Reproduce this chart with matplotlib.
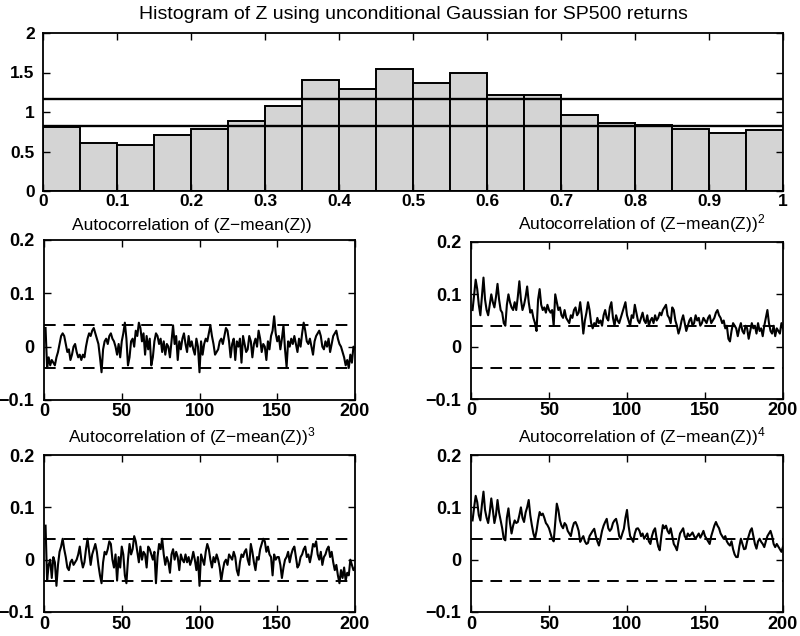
import numpy as np
import matplotlib
matplotlib.use("Agg")
import matplotlib.pyplot as plt

plt.rcParams['font.family'] = ['Liberation Sans', 'DejaVu Sans']
plt.rcParams['mathtext.fontset'] = 'custom'
plt.rcParams['mathtext.rm'] = 'Liberation Sans'
plt.rcParams['mathtext.it'] = 'Liberation Sans'

# ---------------- data ----------------
bin_left = np.arange(0, 1.0, 0.05)
hist_heights = [0.81, 0.61, 0.58, 0.71, 0.78, 0.89, 1.08, 1.41, 1.29, 1.54,
                1.37, 1.50, 1.22, 1.22, 0.96, 0.86, 0.83, 0.79, 0.74, 0.77]
hist_bounds = [1.17, 0.82]

lags = np.arange(1, 201)
conf_band = 0.04

# autocorrelation values in thousandths
acf1 = [35, -40, -20, -35, -25, -30, -35, -20, -10, 5,
        20, 25, 20, 5, -10, -5, -25, -15, 0, 5,
        -10, -20, -15, -25, -15, -20, 0, 15, 25, 20,
        30, 35, 25, 15, 5, -20, -48, -5, 10, 15,
        5, 20, 25, 15, 10, 0, -15, 5, -20, 10,
        25, 45, 15, -35, -20, 10, 15, 0, 30, 20,
        45, 35, 10, 25, -15, 20, -5, 15, -35, -20,
        10, 25, 20, 5, 15, -10, 10, -15, 5, 0,
        -20, 10, 40, 5, 20, -25, 10, -5, 15, 25,
        5, -10, 20, 0, 10, -5, -15, 15, 0, -48,
        10, -15, 5, 15, 10, 25, 40, 20, 5, -15,
        -10, -5, 10, 15, 5, 20, 35, 30, 10, -20,
        5, 15, -25, 10, 0, 15, -30, 20, 5, -10,
        -5, 20, 10, -20, 5, 15, 0, 30, 15, -10,
        5, 0, -25, 10, -5, 20, 30, 57, 25, 10,
        20, -5, 15, 40, -5, -38, 10, 0, 15, 5,
        20, 5, -10, 15, 0, 25, 45, 30, 10, 5,
        15, 0, -15, 10, 20, 25, 30, 20, 0, -5,
        10, 0, 15, -10, 5, 20, 25, 30, 15, 5,
        0, -10, -20, -35, -25, -40, -15, -30, 0, -5]

acf2 = [70, 100, 128, 110, 80, 60, 95, 132, 90, 70,
        60, 80, 100, 85, 75, 95, 120, 90, 70, 65,
        45, 40, 80, 100, 85, 75, 70, 85, 70, 95,
        125, 90, 70, 80, 95, 115, 85, 65, 70, 55,
        45, 30, 90, 110, 80, 70, 75, 65, 80, 70,
        65, 70, 40, 100, 85, 70, 75, 60, 55, 70,
        55, 50, 45, 60, 55, 70, 75, 60, 65, 85,
        60, 25, 50, 65, 85, 70, 45, 35, 45, 40,
        55, 45, 50, 40, 60, 70, 55, 50, 75, 85,
        55, 40, 60, 50, 45, 55, 65, 75, 85, 60,
        50, 40, 60, 55, 80, 65, 50, 45, 55, 65,
        50, 45, 60, 40, 50, 55, 45, 60, 50, 55,
        65, 60, 70, 75, 80, 60, 55, 45, 75, 70,
        50, 40, 25, 35, 50, 60, 45, 30, 40, 50,
        55, 40, 45, 60, 50, 55, 40, 45, 55, 50,
        45, 55, 60, 45, 50, 55, 65, 70, 60, 55,
        45, 50, 35, 40, 15, 10, 30, 45, 40, 35,
        20, 35, 45, 30, 25, 40, 35, 15, 30, 45,
        35, 40, 25, 45, 30, 35, 20, 40, 55, 70,
        45, 30, 25, 40, 20, 35, 30, 25, 45, 35]

acf3 = [65, -40, -10, 0, -35, 5, -5, -50, -10, 15,
        25, 40, 20, 5, -15, -20, -5, 0, -10, -5,
        0, 10, 25, 0, -15, -5, 20, 40, 15, -10,
        10, 20, 30, 15, -10, -30, -45, -5, 15, 10,
        20, 35, 30, 0, -15, 10, -40, 5, -15, 25,
        10, -30, -45, 0, 30, 10, 20, 45, 35, 15,
        -5, 25, 0, 15, 10, -15, 25, 20, 10, 0,
        15, -45, 5, 30, 20, 40, 10, -10, 5, -5,
        -25, 10, 20, 0, 15, 5, -20, 10, 0, -5,
        10, -5, 5, -10, 0, 15, 0, -20, 5, -50,
        10, 0, -10, 15, 30, 20, 0, -15, 5, -5,
        10, 0, -15, -40, -20, -5, 0, -10, 10, 5,
        0, 15, 5, -20, -30, -5, 10, 5, 15, 20,
        0, -10, 30, 15, -5, -20, 5, 0, 20, 30,
        40, 35, 15, 25, 10, 5, -30, 10, 0, 5,
        5, -10, -35, -15, 0, 5, 15, -5, 10, 20,
        25, 5, -15, -10, 5, 10, 20, 25, 5, 10,
        -5, 10, 30, 25, 35, 10, 0, 15, -10, 5,
        10, 20, 25, 5, 15, -5, -20, -10, -30, -45,
        -20, -35, -15, -40, -25, -30, 0, -10, -20, -15]

acf4 = [75, 100, 122, 110, 85, 75, 105, 130, 95, 80,
        70, 90, 117, 95, 70, 85, 114, 90, 75, 60,
        40, 37, 80, 98, 70, 50, 65, 75, 70, 72,
        85, 100, 80, 72, 90, 100, 114, 85, 66, 50,
        40, 55, 75, 91, 85, 88, 80, 70, 66, 60,
        50, 40, 35, 70, 107, 95, 75, 65, 60, 70,
        66, 55, 50, 45, 60, 70, 72, 65, 55, 34,
        40, 45, 35, 30, 32, 45, 50, 55, 59, 45,
        35, 27, 40, 55, 65, 72, 78, 60, 55, 59,
        70, 75, 78, 65, 45, 40, 50, 59, 80, 95,
        65, 45, 40, 34, 50, 59, 60, 55, 45, 50,
        40, 45, 50, 35, 30, 45, 55, 60, 40, 25,
        18, 45, 66, 60, 65, 55, 50, 60, 45, 30,
        25, 18, 35, 50, 55, 60, 45, 40, 50, 45,
        48, 52, 45, 40, 45, 50, 42, 48, 55, 45,
        40, 35, 30, 45, 55, 65, 72, 65, 60, 50,
        45, 40, 45, 35, 30, 27, 35, 20, 10, 5,
        5, 25, 40, 30, 20, 21, 35, 45, 55, 60,
        45, 30, 21, 35, 40, 34, 30, 24, 35, 45,
        50, 55, 45, 30, 24, 30, 25, 20, 15, 25]

titles = ['Autocorrelation of (Z\u2212mean(Z))',
          'Autocorrelation of (Z\u2212mean(Z))$^{2}$',
          'Autocorrelation of (Z\u2212mean(Z))$^{3}$',
          'Autocorrelation of (Z\u2212mean(Z))$^{4}$']
main_title = 'Histogram of Z using unconditional Gaussian for SP500 returns'

# ---------------- figure ----------------
W, H = 800, 636
fig = plt.figure(figsize=(W / 100, H / 100), dpi=100)


def px_axes(x0, y0, x1, y1):
    return fig.add_axes([x0 / W, 1 - y1 / H, (x1 - x0) / W, (y1 - y0) / H])


def style(ax, fs=13, xpad=3, ypad=4):
    ax.tick_params(direction='in', top=True, right=True, length=5, width=1,
                   labelsize=fs)
    ax.tick_params(axis='x', pad=xpad)
    ax.tick_params(axis='y', pad=ypad)
    for lab in ax.get_xticklabels() + ax.get_yticklabels():
        lab.set_fontweight('bold')
    for s in ax.spines.values():
        s.set_linewidth(1.3)


# top histogram
ax0 = px_axes(43, 33, 783, 191)
ax0.bar(bin_left, hist_heights, width=0.05, align='edge',
        facecolor='#d4d4d4', edgecolor='black', linewidth=1.4)
for b in hist_bounds:
    ax0.axhline(b, color='black', linewidth=1.7)
ax0.set_xlim(0, 1)
ax0.set_ylim(0, 2)
ax0.set_xticks(np.arange(0, 1.01, 0.1))
ax0.set_xticklabels(['0', '0.1', '0.2', '0.3', '0.4', '0.5', '0.6', '0.7',
                     '0.8', '0.9', '1'])
ax0.set_yticks([0, 0.5, 1, 1.5, 2])
ax0.set_yticklabels(['0', '0.5', '1', '1.5', '2'])
style(ax0, fs=12.5, xpad=2, ypad=6)
ax0.set_title(main_title, fontsize=14, pad=10)

series = [acf1, acf2, acf3, acf4]
boxes = [(44, 240, 355, 400), (471, 242, 783, 399),
         (44, 455, 355, 612), (471, 455, 783, 612)]
title_dx = [-8, 15, -8, 15]

for i, (vals, box, ttl, dx) in enumerate(zip(series, boxes, titles, title_dx)):
    ax = px_axes(*box)
    ax.plot(lags, np.array(vals) / 1000.0, color='black', linewidth=1.5)
    ax.axhline(conf_band, color='black', linewidth=1.4, linestyle=(0, (6, 4)))
    ax.axhline(-conf_band, color='black', linewidth=1.4, linestyle=(0, (6, 4)))
    ax.set_xlim(0, 200)
    ax.set_ylim(-0.1, 0.2)
    ax.set_xticks([0, 50, 100, 150, 200])
    ax.set_yticks([-0.1, 0, 0.1, 0.2])
    ax.set_yticklabels(['\u22120.1', '0', '0.1', '0.2'])
    style(ax, fs=13, xpad=3 if i >= 2 else 2, ypad=7)
    cx = 0.5 + dx / (box[2] - box[0])
    ax.text(cx, 1.0 + 7 / (box[3] - box[1]), ttl, transform=ax.transAxes,
            ha='center', va='bottom', fontsize=12.5)

fig.savefig('out.png', dpi=100)
